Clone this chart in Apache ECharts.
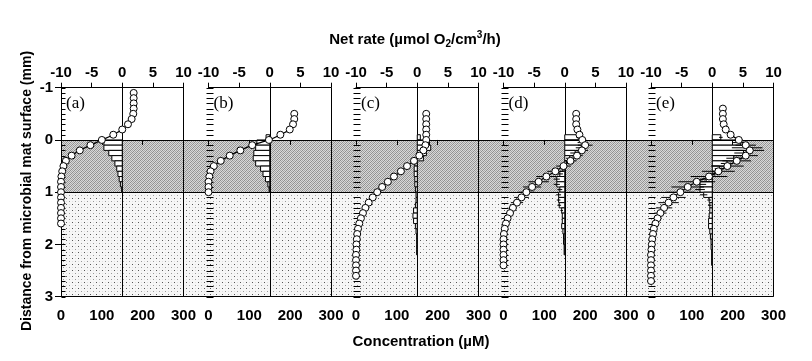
<!DOCTYPE html>
<html><head><meta charset="utf-8">
<script src="https://cdn.jsdelivr.net/npm/echarts@6/dist/echarts.min.js"></script>
<style>html,body{margin:0;padding:0;background:#fff}#c{width:812px;height:361px}</style>
</head><body><div id="c"></div>
<script>
// ---------- DATA ----------
const panelLabels = ['(a)', '(b)', '(c)', '(d)', '(e)'];
const concTicks = [0, 100, 200, 300];
const rateTicks = [-10, -5, 0, 5, 10];
const depthTicks = [-1, 0, 1, 2, 3];
const depthMinorTicks = [-1,-0.9,-0.8,-0.7,-0.6,-0.5,-0.4,-0.3,-0.2,-0.1,0,0.1,0.2,0.3,0.4,0.5,0.6,0.7,0.8,0.9,1,1.1,1.2,1.3,1.4,1.5,1.6,1.7,1.8,1.9,2,2.1,2.2,2.3,2.4,2.5,2.6,2.7,2.8,2.9,3];

// concentration profiles (µM) at depth (mm)
const concDepthA = [-0.9,-0.8,-0.7,-0.6,-0.5,-0.4,-0.3,-0.2,-0.1,0,0.1,0.2,0.3,0.4,0.5,0.6,0.7,0.8,0.9,1.0,1.1,1.2,1.3,1.4,1.5,1.6];
const concA = [178,178,178,178,177,173,164,150,128,100,72,46,26,12,6,3,1,0,0,0,0,0,0,0,0,0];
const concDepthB = [-0.5,-0.4,-0.3,-0.2,-0.1,0,0.1,0.2,0.3,0.4,0.5,0.6,0.7,0.8,0.9,1.0];
const concB = [210,210,207,199,176,148,107,78,52,30,13,5,2,0,0,0];
const concDepthC = [-0.5,-0.4,-0.3,-0.2,-0.1,0,0.1,0.2,0.3,0.4,0.5,0.6,0.7,0.8,0.9,1.0,1.1,1.2,1.3,1.4,1.5,1.6,1.7,1.8,1.9,2.0,2.1,2.2,2.3,2.4,2.5,2.6];
const concC = [172,172,172,172,172,172,170,165,155,142,125,110,93,78,64,52,41,31,23,17,12,8,5,3,2,1,1,0,0,0,0,0];
const concDepthD = [-0.5,-0.4,-0.3,-0.2,-0.1,0,0.1,0.2,0.3,0.4,0.5,0.6,0.7,0.8,0.9,1.0,1.1,1.2,1.3,1.4,1.5,1.6,1.7,1.8,1.9,2.0,2.1,2.2,2.3,2.4];
const concD = [178,178,178,181,186,193,200,192,180,164,147,127,105,86,70,56,44,33,23,16,10,6,3,1,0,0,0,0,0,0];
const concErrD = [0,0,0,0,0,8,18,15,14,15,18,20,25,25,22,20,18,15,10,8,5,0,0,0,0,0,0,0,0,0];
const concDepthE = [-0.6,-0.5,-0.4,-0.3,-0.2,-0.1,0,0.1,0.2,0.3,0.4,0.5,0.6,0.7,0.8,0.9,1.0,1.1,1.2,1.3,1.4,1.5,1.6,1.7,1.8,1.9,2.0,2.1,2.2,2.3,2.4,2.5,2.6,2.7];
const concE = [176,176,176,178,183,195,215,232,242,232,210,187,165,142,112,90,72,55,43,32,23,16,11,7,5,3,2,1,0,0,0,0,0,0];
const concErrE = [0,0,0,0,0,5,10,25,35,30,35,40,40,45,45,40,35,30,25,20,15,10,8,5,0,0,0,0,0,0,0,0,0,0];

// net rates (µmol O2/cm3/h), 0.1 mm layers centred at depth
const rateDepthA = [0.05,0.15,0.25,0.35,0.45,0.55,0.65,0.75,0.85,0.95];
const rateA = [-3.0,-3.0,-2.2,-1.7,-1.2,-0.9,-0.7,-0.5,-0.3,-0.1];
const rateDepthB = [-0.05,0.05,0.15,0.25,0.35,0.45,0.55,0.65,0.75,0.85,0.95];
const rateB = [-0.6,-2.1,-2.3,-2.6,-2.7,-2.3,-1.5,-1.1,-0.7,-0.3,-0.1];
const rateDepthC = [-0.05,0.05,0.15,0.25,0.35,0.45,0.55,0.65,0.75,0.85,0.95,1.05,1.15,1.25,1.35,1.45,1.55,1.65,1.75,1.85,1.95,2.05,2.15];
const rateC = [0.5,2.0,2.2,1.5,1.0,-0.4,-0.5,-0.5,-0.4,-0.4,-0.3,-0.2,-0.2,-0.3,-0.6,-0.7,-0.6,-0.3,-0.2,-0.1,-0.1,-0.1,-0.1];
const rateDepthD = [-0.05,0.05,0.15,0.25,0.35,0.45,0.55,0.65,0.75,0.85,0.95,1.05,1.15,1.25,1.35,1.45,1.55,1.65,1.75,1.85,1.95,2.05,2.15];
const rateD = [2.2,2.9,2.7,1.7,0.8,0.3,-0.3,-0.8,-1.3,-1.3,-0.8,-1.0,-1.0,-0.9,-0.5,-0.4,-0.4,-0.5,-0.3,-0.2,-0.2,-0.1,-0.1];
const rateErrD = [0.3,0.8,0.9,0.8,0.6,0.5,0.5,0.5,0.5,0.5,0.4,0.4,0.3,0.3,0.2,0,0,0,0,0,0,0,0];
const rateDepthE = [-0.05,0.05,0.15,0.25,0.35,0.45,0.55,0.65,0.75,0.85,0.95,1.05,1.15,1.25,1.35,1.45,1.55,1.65,1.75,1.85,1.95,2.05,2.15,2.25,2.35];
const rateE = [1.4,4.6,5.7,5.1,3.5,2.4,1.2,0.3,-1.0,-2.0,-2.0,-1.4,-0.5,-0.4,-0.4,-0.5,-0.6,-0.6,-0.4,-0.3,-0.2,-0.2,-0.1,-0.1,-0.1];
const rateErrE = [0.3,1.2,2.5,1.5,1.2,1.0,0.8,0.8,1.0,1.0,0.8,0.6,0.3,0.3,0,0,0,0,0,0,0,0,0,0,0];

// ---------- BUILD ----------
const panels = [
  {cd: concDepthA, c: concA, ce: null, rd: rateDepthA, r: rateA, re: null},
  {cd: concDepthB, c: concB, ce: null, rd: rateDepthB, r: rateB, re: null},
  {cd: concDepthC, c: concC, ce: null, rd: rateDepthC, r: rateC, re: null},
  {cd: concDepthD, c: concD, ce: concErrD, rd: rateDepthD, r: rateD, re: rateErrD},
  {cd: concDepthE, c: concE, ce: concErrE, rd: rateDepthE, r: rateE, re: rateErrE}
];

function makePattern(w, h, base, dots) {
  const cv = document.createElement('canvas');
  cv.width = w; cv.height = h;
  const ctx = cv.getContext('2d');
  ctx.fillStyle = base; ctx.fillRect(0, 0, w, h);
  dots.forEach(d => { ctx.fillStyle = d[2]; ctx.fillRect(d[0], d[1], 1, 1); });
  return cv;
}
const darkPat = makePattern(4, 4, '#d8d8d8', [[0,0,'#8e8e8e'],[2,0,'#a8a8a8'],[1,1,'#a4a4a4'],[3,1,'#8e8e8e'],[0,2,'#a8a8a8'],[2,2,'#8e8e8e'],[1,3,'#8e8e8e'],[3,3,'#a4a4a4']]);
const lightPat = makePattern(6, 6, '#f6f6f6', [[0,0,'#555'],[3,3,'#999'],[0,3,'#e0e0e0'],[3,0,'#e0e0e0']]);

const FONT = 'Liberation Sans, Arial, sans-serif';
const TOP = 87.7, H = 209, L0 = 61, W = 122.5, STEP = 147.5;

const grids = [], xAxes = [], yAxes = [], series = [], graphics = [];
const lab = {fontFamily: FONT, fontWeight: 'bold', fontSize: 15, color: '#000'};

function hLine(x1, x2, y) {
  return {type: 'line', shape: {x1: x1, y1: y, x2: x2, y2: y}, style: {stroke: '#000', lineWidth: 1}};
}

panels.forEach((p, i) => {
  const left = L0 + i * STEP;
  grids.push({left: left, top: TOP, width: W, height: H, containLabel: false, outerBoundsMode: 'none'});
  // bottom concentration axis
  xAxes.push({type: 'value', gridIndex: i, position: 'bottom', zlevel: 1, z: 4, min: concTicks[0], max: concTicks[concTicks.length-1],
    interval: concTicks[1]-concTicks[0], splitLine: {show: false},
    axisLine: {show: true, lineStyle: {color: '#000', width: 1}},
    axisTick: {show: true, inside: false, length: 5, lineStyle: {color: '#000', width: 1}},
    axisLabel: Object.assign({margin: 12, showMinLabel: true, showMaxLabel: true}, lab)});
  // top rate axis
  xAxes.push({type: 'value', gridIndex: i, position: 'top', zlevel: 1, z: 4, min: rateTicks[0], max: rateTicks[rateTicks.length-1],
    interval: rateTicks[1]-rateTicks[0], splitLine: {show: false},
    axisLine: {show: true, onZero: false, lineStyle: {color: '#000', width: 1}},
    axisTick: {show: true, inside: false, length: 5, lineStyle: {color: '#000', width: 1}},
    axisLabel: Object.assign({margin: 7, showMinLabel: true, showMaxLabel: true}, lab)});
  // depth axis
  yAxes.push({type: 'value', gridIndex: i, inverse: true, position: 'left', zlevel: 1, z: 4, min: depthTicks[0], max: depthTicks[depthTicks.length-1],
    interval: depthTicks[1]-depthTicks[0], splitLine: {show: false},
    axisLine: {show: i === 0, onZero: false, lineStyle: {color: '#000', width: 1}},
    axisTick: {show: i === 0, inside: false, length: 6, lineStyle: {color: '#000', width: 1}},
    axisLabel: Object.assign({show: i === 0, margin: 8}, lab)});

  const xi = 2 * i, yi = i;
  // 0.1 mm minor ticks along the depth axis
  series.push({type: 'custom', xAxisIndex: xi, yAxisIndex: yi, zlevel: 1, z: 2, silent: true, animation: false, clip: false,
    data: depthMinorTicks.map(d => [concTicks[0], d]),
    renderItem: function (params, api) {
      const pt = api.coord([api.value(0), api.value(1)]);
      const x = Math.round(pt[0]) + 0.5, y = Math.round(pt[1]) + 0.5;
      return hLine(i === 0 ? x : x - 3, x + 4, y);
    }});
  // rate bars
  series.push({type: 'custom', xAxisIndex: xi + 1, yAxisIndex: yi, zlevel: 1, z: 3, silent: true, animation: false,
    data: p.r.map((v, k) => [v, p.rd[k]]),
    renderItem: function (params, api) {
      const r = api.value(0), d = api.value(1);
      const a = api.coord([0, d - 0.05]), b = api.coord([r, d + 0.05]);
      return {type: 'rect', shape: {x: Math.min(a[0], b[0]), y: Math.min(a[1], b[1]), width: Math.abs(b[0]-a[0]), height: Math.abs(b[1]-a[1])},
        style: {fill: '#fff', stroke: '#000', lineWidth: 1}};
    },
    markLine: {silent: true, zlevel: 1, z: 2, symbol: ['none', 'none'], label: {show: false}, animation: false,
      lineStyle: {color: '#000', width: 1, type: 'solid'},
      data: [{xAxis: 0}, {xAxis: rateTicks[rateTicks.length-1]}]}
  });
  // rate error bars
  if (p.re) {
    series.push({type: 'custom', xAxisIndex: xi + 1, yAxisIndex: yi, zlevel: 1, z: 4, silent: true, animation: false,
      data: p.r.map((v, k) => [v, p.rd[k], p.re[k]]).filter(q => q[2] > 0),
      renderItem: function (params, api) {
        const r = api.value(0), d = api.value(1), e = api.value(2);
        const a = api.coord([r - e, d]), b = api.coord([r + e, d]);
        return hLine(a[0], b[0], a[1]);
      }});
  }
  // concentration error bars
  if (p.ce) {
    series.push({type: 'custom', xAxisIndex: xi, yAxisIndex: yi, zlevel: 1, z: 4, silent: true, animation: false,
      data: p.c.map((v, k) => [v, p.cd[k], p.ce[k]]).filter(q => q[2] > 0),
      renderItem: function (params, api) {
        const c = api.value(0), d = api.value(1), e = api.value(2);
        const a = api.coord([c - e, d]), b = api.coord([c + e, d]);
        return hLine(a[0], b[0], a[1]);
      }});
  }
  // concentration profile
  series.push({type: 'line', xAxisIndex: xi, yAxisIndex: yi, zlevel: 1, z: 5, silent: true, animation: false,
    data: p.c.map((v, k) => [v, p.cd[k]]),
    symbol: 'circle', symbolSize: 7, showAllSymbol: true, smooth: 0.3,
    lineStyle: {color: '#000', width: 1.3},
    itemStyle: {color: '#fff', borderColor: '#000', borderWidth: 1}});

  graphics.push({type: 'text', left: left + 5, top: 95, zlevel: 1, z: 10,
    style: {text: panelLabels[i], font: '17px "Liberation Serif", "Times New Roman", serif', fill: '#000'}});
});

// background bands across all panels (bottom canvas layer)
const bgi = panels.length;
grids.push({left: L0, top: TOP, width: 4 * STEP + W, height: H, containLabel: false, outerBoundsMode: 'none'});
xAxes.push({type: 'value', gridIndex: bgi, min: 0, max: 1, show: false});
yAxes.push({type: 'value', gridIndex: bgi, inverse: true, min: depthTicks[0], max: depthTicks[depthTicks.length-1], show: false});
series.push({type: 'line', xAxisIndex: 2 * bgi, yAxisIndex: bgi, zlevel: 0, z: 0, silent: true, animation: false,
  data: [[0, -1]], showSymbol: false, lineStyle: {width: 0},
  markArea: {silent: true, zlevel: 0, z: 0, animation: false, label: {show: false},
    data: [
      [{yAxis: 0, itemStyle: {color: {image: darkPat, repeat: 'repeat'}}}, {yAxis: 1}],
      [{yAxis: 1, itemStyle: {color: {image: lightPat, repeat: 'repeat'}}}, {yAxis: 3}]
    ]},
  markLine: {silent: true, zlevel: 0, z: 1, symbol: ['none', 'none'], label: {show: false}, animation: false,
    lineStyle: {color: '#000', width: 1, type: 'solid'},
    data: [{yAxis: 0}, {yAxis: 1}, {yAxis: 3}]}});

// titles
graphics.push({type: 'text', x: 415, y: 40, zlevel: 1, z: 10,
  style: {text: 'Net rate (µmol O{sub|2}/cm{sup|3}/h)', fontFamily: FONT, fontWeight: 'bold', fontSize: 15, fill: '#000',
    align: 'center', verticalAlign: 'middle',
    rich: {sub: {fontFamily: FONT, fontWeight: 'bold', fontSize: 10, padding: [9, 0, 0, 0]},
           sup: {fontFamily: FONT, fontWeight: 'bold', fontSize: 10, padding: [0, 0, 9, 0]}}}});
graphics.push({type: 'text', x: 421, y: 342, zlevel: 1, z: 10,
  style: {text: 'Concentration (µM)', fontFamily: FONT, fontWeight: 'bold', fontSize: 15, fill: '#000', align: 'center', verticalAlign: 'middle'}});
graphics.push({type: 'text', x: 27, y: 191, rotation: Math.PI / 2, zlevel: 1, z: 10,
  style: {text: 'Distance from microbial mat surface (mm)', fontFamily: FONT, fontWeight: 'bold', fontSize: 14, fill: '#000', align: 'center', verticalAlign: 'middle'}});

const chart = echarts.init(document.getElementById('c'), null, {renderer: 'canvas'});
chart.setOption({
  animation: false,
  backgroundColor: '#fff',
  grid: grids, xAxis: xAxes, yAxis: yAxes, series: series, graphic: graphics
});
</script></body></html>
